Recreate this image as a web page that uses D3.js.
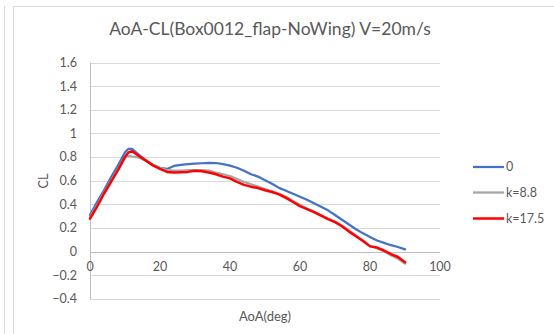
<!DOCTYPE html>
<html><head><meta charset="utf-8">
<script src="https://cdn.jsdelivr.net/npm/d3@7"></script>
<style>body{margin:0;background:#fff;} svg{display:block;font-family:Lato,"Open Sans",sans-serif;}</style>
</head><body>
<svg id="c" width="554" height="334"></svg>
<script>
const title = "AoA-CL(Box0012_flap-NoWing) V=20m/s";
const xTicks = [0,20,40,60,80,100];
const yTicks = [-0.4,-0.2,0,0.2,0.4,0.6,0.8,1,1.2,1.4,1.6];
const seriesNames = ["0","k=8.8","k=17.5"];
const seriesColors = ["#4472C4","#A5A5A5","#FF0000"];
const aoa = [0,2,4,6,8,10,11,12,14,16,18,20,22,24,26,28,30,32,34,36,38,40,42,44,46,48,50,52,54,56,58,60,62,64,66,68,70,72,74,76,78,80,82,84,86,88,90];
const cl0 = [0.31,0.42,0.52,0.63,0.73,0.84,0.87,0.87,0.82,0.77,0.73,0.71,0.70,0.725,0.735,0.74,0.745,0.748,0.752,0.75,0.74,0.728,0.71,0.685,0.655,0.635,0.605,0.575,0.54,0.515,0.49,0.465,0.44,0.41,0.38,0.35,0.31,0.27,0.23,0.19,0.155,0.125,0.095,0.075,0.055,0.04,0.02];
const cl88 = [0.29,0.39,0.50,0.60,0.70,0.80,0.81,0.805,0.795,0.77,0.735,0.71,0.69,0.685,0.685,0.69,0.69,0.69,0.685,0.67,0.655,0.64,0.615,0.59,0.57,0.55,0.53,0.51,0.49,0.465,0.43,0.395,0.365,0.34,0.31,0.28,0.255,0.22,0.18,0.135,0.095,0.05,0.03,0.005,-0.03,-0.06,-0.10];
const cl175 = [0.28,0.38,0.49,0.59,0.69,0.80,0.84,0.85,0.81,0.77,0.73,0.70,0.675,0.67,0.672,0.675,0.685,0.68,0.67,0.655,0.635,0.62,0.59,0.565,0.55,0.538,0.52,0.505,0.485,0.455,0.42,0.385,0.36,0.335,0.305,0.275,0.25,0.215,0.17,0.13,0.09,0.045,0.035,0.01,-0.02,-0.045,-0.09];
const series = [cl0, cl88, cl175];

const svg = d3.select("#c");
// frame lines
svg.append("line").attr("x1",4.5).attr("x2",4.5).attr("y1",6).attr("y2",334).attr("stroke","#D9D9D9");
svg.append("line").attr("x1",13.5).attr("x2",13.5).attr("y1",6).attr("y2",334).attr("stroke","#D9D9D9");
svg.append("line").attr("x1",13.5).attr("x2",554).attr("y1",6.5).attr("y2",6.5).attr("stroke","#D9D9D9");

const x = d3.scaleLinear().domain([0,100]).range([90,440]);
const y = d3.scaleLinear().domain([-0.4,1.6]).range([299,62.5]);

// gridlines
svg.append("g").selectAll("line").data(yTicks).join("line")
  .attr("x1",x(0)).attr("x2",x(100))
  .attr("y1",d=>Math.round(y(d))+0.5).attr("y2",d=>Math.round(y(d))+0.5)
  .attr("stroke",d=>d===0?"#BFBFBF":"#D9D9D9").attr("stroke-width",1);
// vertical axis line
svg.append("line").attr("x1",x(0)+0.5).attr("x2",x(0)+0.5).attr("y1",y(1.6)).attr("y2",y(-0.4)+0.5).attr("stroke","#BFBFBF");

// y tick labels
svg.append("g").selectAll("text").data(yTicks).join("text")
  .attr("x",77).attr("y",d=>y(d)).attr("dy","0.35em").attr("text-anchor","end")
  .attr("font-size",12.5).attr("fill","#595959").text(d=>d3.format("")(d));
// x tick labels
svg.append("g").selectAll("text").data(xTicks).join("text")
  .attr("x",d=>x(d)).attr("y",y(0)+19).attr("text-anchor","middle")
  .attr("font-size",12.5).attr("fill","#595959").text(d=>d);

// lines
const line = d3.line().x((d,i)=>x(aoa[i])).y(d=>y(d));
const widths = [2.25,2.25,2.5];
series.forEach((s,k)=>{
  svg.append("path").datum(s).attr("d",line).attr("fill","none")
    .attr("stroke",seriesColors[k]).attr("stroke-width",widths[k])
    .attr("stroke-linejoin","round").attr("stroke-linecap","round");
});

// title
svg.append("text").attr("x",270).attr("y",35).attr("text-anchor","middle")
  .attr("font-size",17.5).attr("fill","#595959").text(title);
// axis titles
svg.append("text").attr("transform","translate(48,181) rotate(-90)").attr("text-anchor","middle")
  .attr("font-size",12.5).attr("fill","#595959").text("CL");
svg.append("text").attr("x",265).attr("y",321).attr("text-anchor","middle")
  .attr("font-size",13).attr("fill","#595959").text("AoA(deg)");

// legend
const ly = [167,192.5,218.5];
seriesNames.forEach((n,k)=>{
  svg.append("line").attr("x1",473).attr("x2",504).attr("y1",ly[k]).attr("y2",ly[k])
    .attr("stroke",seriesColors[k]).attr("stroke-width",widths[k]);
  svg.append("text").attr("x",506).attr("y",ly[k]).attr("dy","0.35em")
    .attr("font-size",12.5).attr("fill","#595959").text(n);
});
</script>
</body></html>
